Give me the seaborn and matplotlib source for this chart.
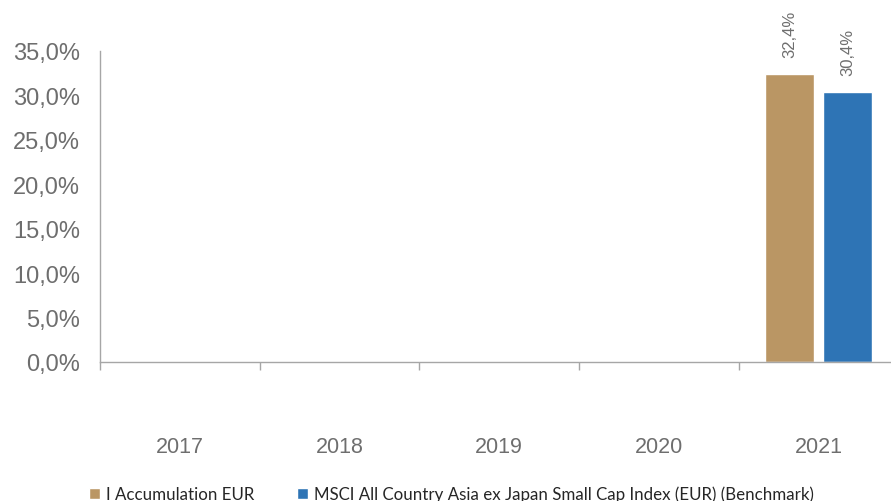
import numpy as np
import pandas as pd
import matplotlib
matplotlib.use("Agg")
import matplotlib.pyplot as plt
import matplotlib.ticker as mticker
import seaborn as sns

years = ["2017", "2018", "2019", "2020", "2021"]
fund = [np.nan, np.nan, np.nan, np.nan, 32.4]
bench = [np.nan, np.nan, np.nan, np.nan, 30.4]
series_names = ["I Accumulation EUR",
                "MSCI All Country Asia ex Japan Small Cap Index (EUR) (Benchmark)"]
colors = ["#BA9664", "#2E74B5"]

df = pd.DataFrame({
    "year": years * 2,
    "value": fund + bench,
    "series": [series_names[0]] * len(years) + [series_names[1]] * len(years),
})

sns.set_theme(style="white")
plt.rcParams["font.family"] = ["Liberation Sans", "DejaVu Sans"]
grey = "#6E6E6E"

fig = plt.figure(figsize=(8.91, 5.02), dpi=100)
ax = fig.add_axes([100 / 891, 1 - 363 / 502, 798.5 / 891, 311 / 502])

sns.barplot(data=df, x="year", y="value", hue="series", order=years,
            hue_order=series_names, palette=colors, width=0.726, gap=0.154,
            saturation=1, ax=ax, legend=True)

for c in ax.containers:
    labels = [("" if np.isnan(b.get_height()) else
               f"{b.get_height():.1f}".replace(".", ",") + "%") for b in c]
    ax.bar_label(c, labels=labels, rotation=90, padding=12, color=grey,
                 fontsize=12)

ax.set_ylim(0, 35)
ax.set_xlim(-0.5, 4.5)
ax.yaxis.set_major_locator(mticker.MultipleLocator(5))
ax.yaxis.set_major_formatter(
    mticker.FuncFormatter(lambda v, p: f"{v:.1f}".replace(".", ",") + "%"))
ax.tick_params(axis="y", length=0, pad=14.4, labelsize=17, labelcolor=grey)

# ticks between categories, labels centred
ax.set_xticks(np.arange(-0.5, 4.5, 1.0))
ax.set_xticklabels([])
ax.set_xticks(np.arange(len(years)), minor=True)
ax.set_xticklabels(years, minor=True)
ax.tick_params(axis="x", which="major", length=6, width=1, color="#A6A6A6",
               direction="out", bottom=True)
ax.tick_params(axis="x", which="minor", length=0, pad=53, labelsize=15.5,
               labelcolor=grey)
ax.set_xlabel("")
ax.set_ylabel("")

for s in ["top", "right"]:
    ax.spines[s].set_visible(False)
for s in ["left", "bottom"]:
    ax.spines[s].set_color("#A6A6A6")
    ax.spines[s].set_linewidth(1)

handles, labs = ax.get_legend_handles_labels()
ax.get_legend().remove()
fig.legend(handles, labs, loc="center left", bbox_to_anchor=(89 / 891, 0.014),
           ncol=2, frameon=False, borderpad=0, borderaxespad=0,
           handlelength=0.62, handleheight=0.62, handletextpad=0.36,
           columnspacing=2.55, prop={"family": "Lato", "size": 12.2})

fig.savefig("out.png", dpi=100)
